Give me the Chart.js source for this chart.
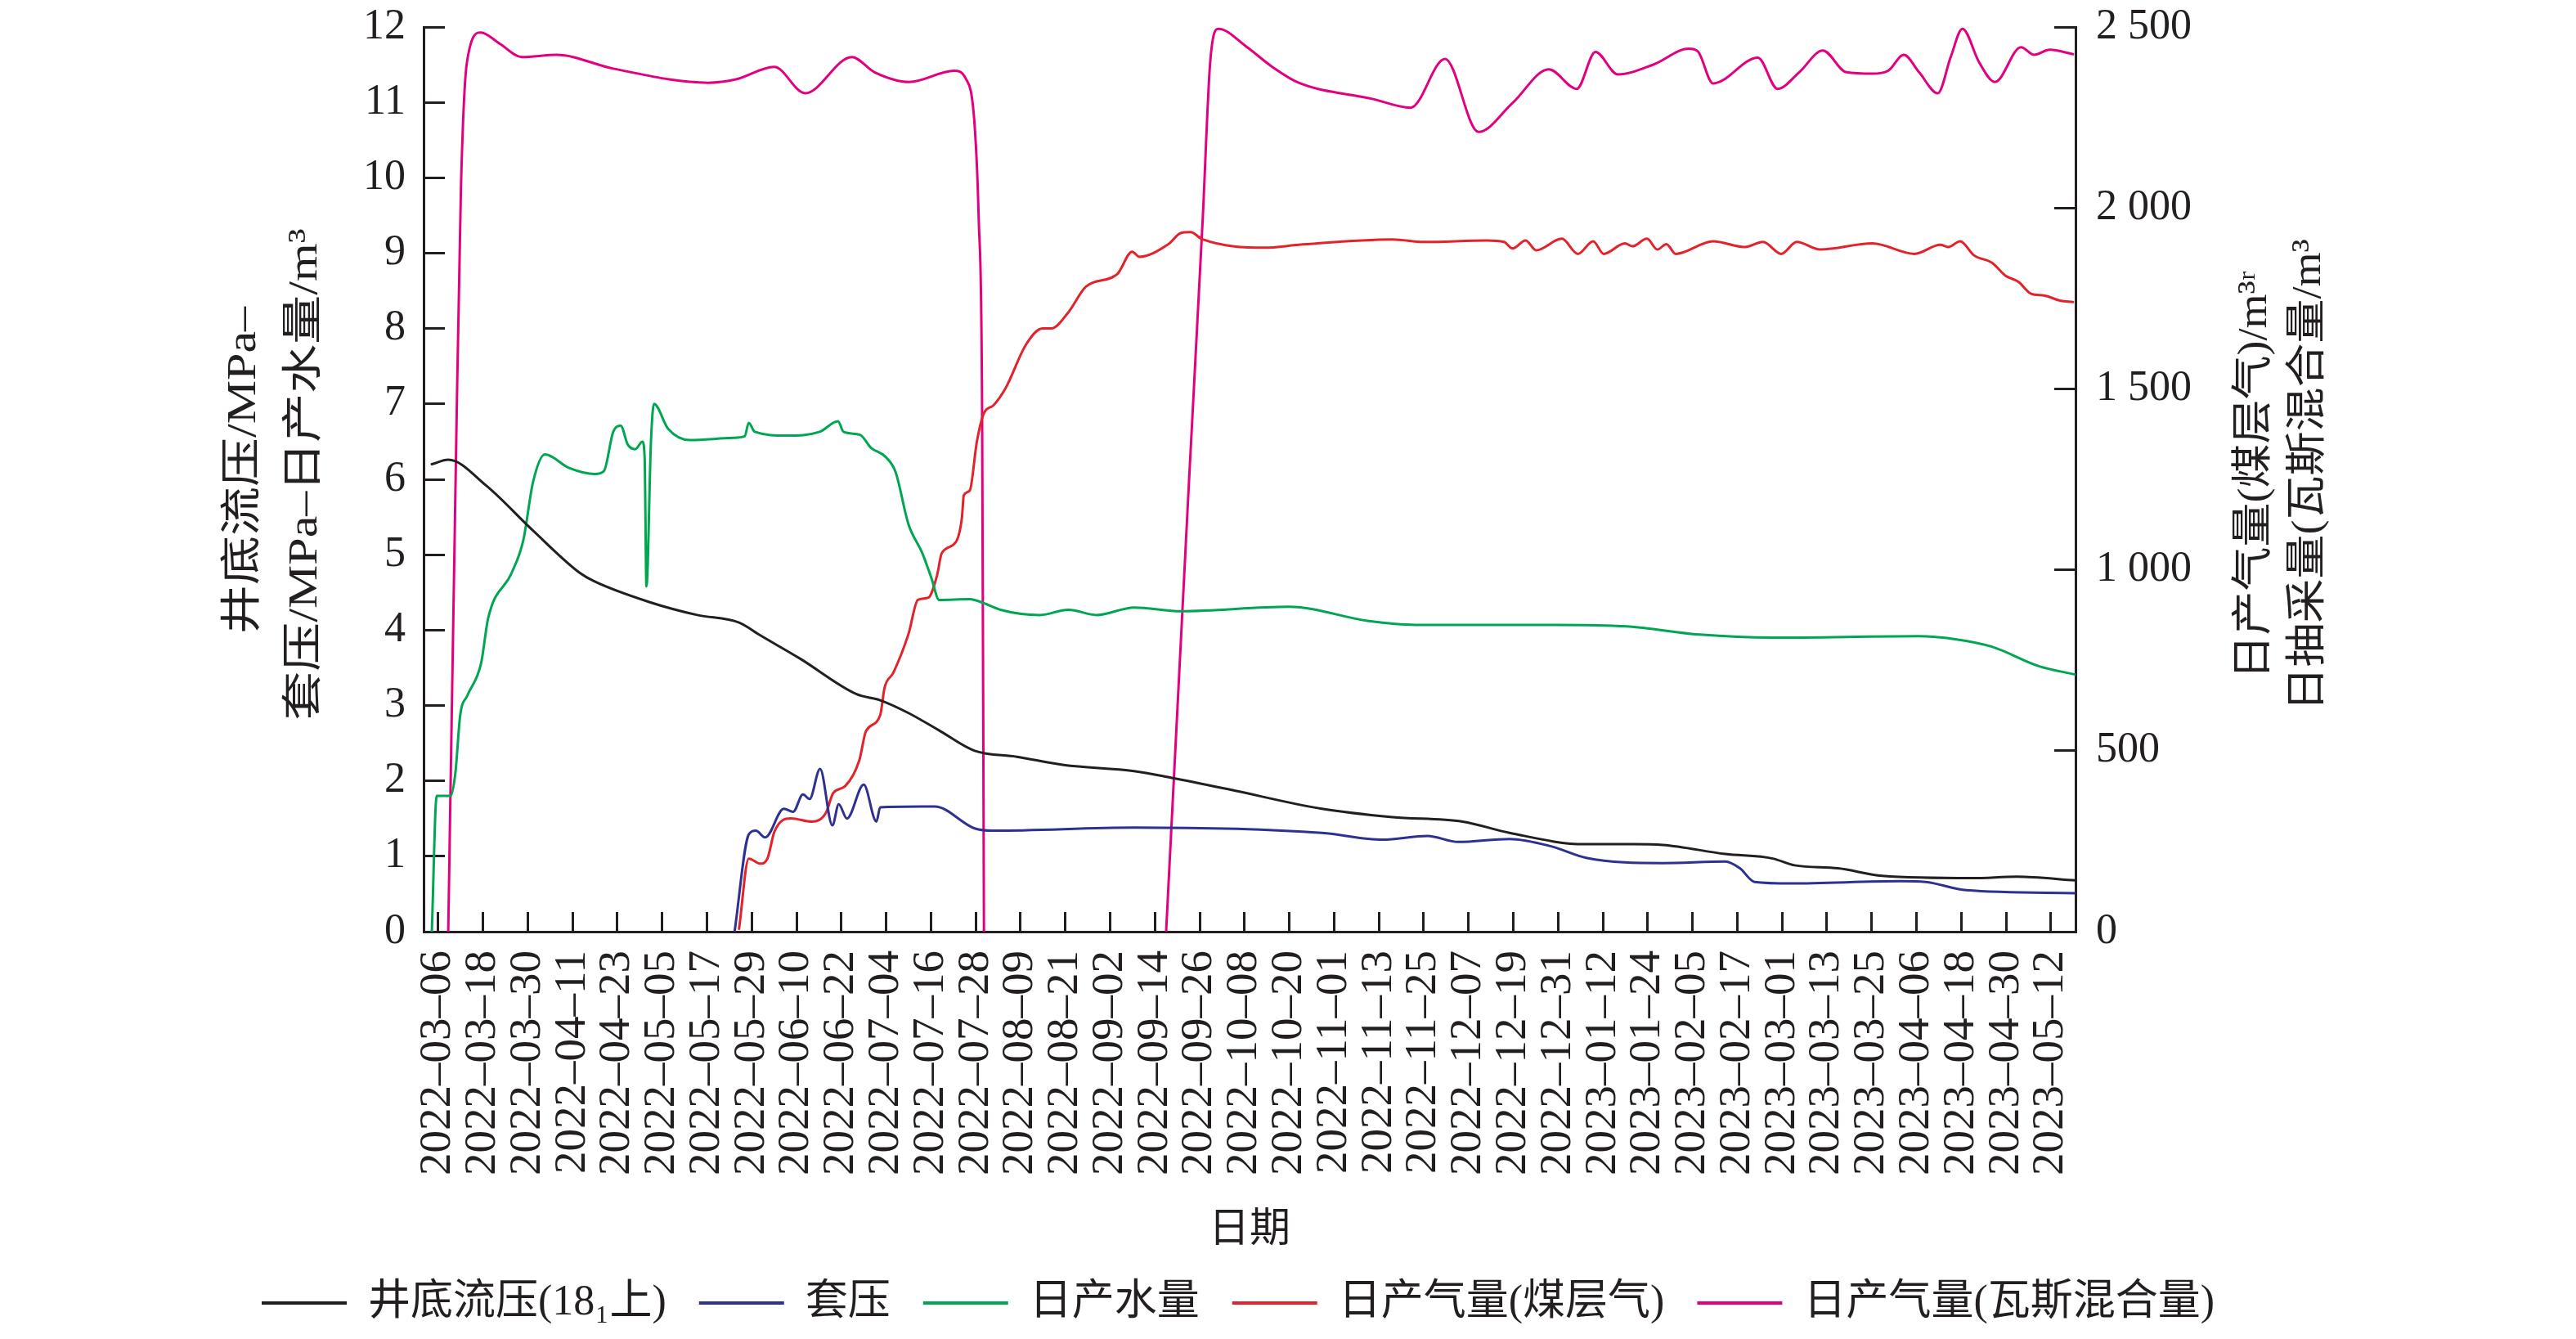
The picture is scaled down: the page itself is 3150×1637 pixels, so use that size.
<!DOCTYPE html>
<html>
<head>
<meta charset="utf-8">
<script src="https://cdn.jsdelivr.net/npm/chart.js@4.4.1/dist/chart.umd.min.js"></script>
<style>
html,body{margin:0;padding:0;background:#fff;}
canvas{display:block;}
</style>
</head>
<body>
<canvas id="c" width="3150" height="1637"></canvas>
<script>
// ---- x axis: days since 2022-03-06, tick every 12 days ----
const startDate = '2022-03-06';
const dateLabels = ['2022–03–06','2022–03–18','2022–03–30','2022–04–11','2022–04–23','2022–05–05','2022–05–17','2022–05–29','2022–06–10','2022–06–22','2022–07–04','2022–07–16','2022–07–28','2022–08–09','2022–08–21','2022–09–02','2022–09–14','2022–09–26','2022–10–08','2022–10–20','2022–11–01','2022–11–13','2022–11–25','2022–12–07','2022–12–19','2022–12–31','2023–01–12','2023–01–24','2023–02–05','2023–02–17','2023–03–01','2023–03–13','2023–03–25','2023–04–06','2023–04–18','2023–04–30','2023–05–12'];
const tickDays = [0,12,24,36,48,60,72,84,96,108,120,132,144,156,168,180,192,204,216,228,240,252,264,276,288,300,312,324,336,348,360,372,384,396,408,420,432];
const xMin = -3.9, xMax = 438.6;

const seriesNames = ['井底流压(18₁上)','套压','日产水量','日产气量(煤层气)','日产气量(瓦斯混合量)'];
const leftTicks = [0,1,2,3,4,5,6,7,8,9,10,11,12];
const rightTicks = [0,500,1000,1500,2000,2500];
const rightTickLabels = ['0','500','1 000','1 500','2 000','2 500'];

// 井底流压 (MPa, left axis)
const bhpDays = [-1.7,2.7,12.8,25.4,37.9,41.7,56.7,69.4,80.6,86.3,97.0,112.1,118.4,126,134.5,143.7,155,167.6,186.4,196.5,211.6,236.7,255.6,274.4,287,307,320,328,344.8,357.5,363.3,375,386.8,411,422.9,438.6];
const bhpValues = [6.20,6.26,5.92,5.32,4.76,4.65,4.37,4.20,4.10,3.93,3.62,3.15,3.07,2.90,2.66,2.40,2.32,2.21,2.13,2.04,1.89,1.63,1.52,1.46,1.31,1.16,1.16,1.15,1.03,0.97,0.88,0.84,0.74,0.71,0.73,0.68];

// 套压 (MPa, left axis)
const casingDays = [79.4,83.2,85.1,87.6,92.6,95.1,97.7,99.5,102.3,105.6,107.3,109.5,114.0,117.4,118.4,129.7,133,143.7,148.7,186.4,236.7,253,265,273.2,287,298.3,307.5,328,344.8,348.7,352.6,362.3,391.7,398.4,409.3,438.6];
const casingValues = [0,1.29,1.34,1.25,1.63,1.59,1.82,1.76,2.16,1.41,1.69,1.50,1.95,1.46,1.65,1.66,1.66,1.37,1.34,1.38,1.31,1.22,1.27,1.19,1.23,1.13,0.98,0.91,0.93,0.84,0.66,0.64,0.67,0.66,0.55,0.51];

// 日产水量 (m3, left axis)
const waterDays = [-1.7,-0.4,3.3,4.6,5.9,7.8,11.5,13.4,19.7,22.8,25.4,28.6,35.1,42,44.4,46.9,48.9,50.8,52.8,54.7,55.3,55.8,57.0,57.8,61.6,67.4,79.1,82.1,83.2,84.8,93.4,102.2,107.1,108.6,113,115.9,119.8,122.5,126,129.7,132.2,134.2,142.4,145.5,150.6,161.2,168.8,176.4,186.4,199,227.9,249.3,261.8,298.8,318.3,337.9,357.5,396.5,406.4,416.2,428.9,438.6];
const waterValues = [0,1.80,1.80,2.10,2.87,3.13,3.56,4.16,4.76,5.19,5.96,6.33,6.15,6.07,6.11,6.63,6.71,6.46,6.40,6.50,6.30,4.58,6.50,7.00,6.67,6.52,6.55,6.57,6.75,6.63,6.58,6.63,6.77,6.63,6.59,6.42,6.30,6.10,5.40,5.02,4.68,4.40,4.41,4.37,4.27,4.20,4.27,4.20,4.30,4.25,4.31,4.12,4.07,4.07,4.05,3.94,3.90,3.92,3.88,3.78,3.52,3.41];

// 日产气量(煤层气) (m3, right axis)
const cbmDays = [80.6,83.2,86.3,88.2,90.1,94.5,100.1,103.9,105.8,109,112.8,114.6,118.4,119.6,121.9,126,128.5,131.3,133.6,134.9,138.7,140.3,140.8,142.4,144.3,146.2,148.7,152,157.5,161.9,164.3,168.7,173.6,181.9,185.9,187.8,195.6,199.0,201.5,204.8,221.5,230.5,255.6,264,280.9,285.5,287.8,291.3,294.1,301,305.3,309.4,312.2,317.9,319.9,323.8,326.6,329,331.5,341.5,350,354.9,359.8,363.9,370.2,384.2,395.4,402.4,404.5,407.7,411.4,416.3,419.8,423.3,426.7,430.2,434.4,437.9];
const cbmValues = [8,202,188,202,277,313,304,329,383,402,473,554,598,675,715,823,917,923,983,1046,1077,1144,1206,1219,1354,1433,1454,1502,1623,1667,1667,1710,1783,1817,1879,1865,1900,1931,1933,1913,1890,1898,1913,1906,1910,1906,1888,1910,1883,1915,1873,1908,1873,1902,1894,1915,1885,1900,1873,1908,1892,1906,1873,1906,1885,1902,1873,1898,1892,1908,1869,1848,1813,1796,1763,1758,1744,1740];

// 日抽采量(瓦斯混合量) (m3, right axis); null = no line drawn (pump stopped)
const gasDays = [2.7,4.8,6.1,7.7,11.4,16.6,22.4,31.7,46.9,72.3,80,90,98.3,110.8,116.9,126.2,138.2,141.3,143.7,144.8,145.7,146.2,170,195,201,204.8,206.8,209,216.7,223.4,230.5,250,260.5,269.7,278.7,287.8,297.5,305,310,316,325.5,335,337.4,341.5,353.5,358.8,364.6,370.9,377.2,384.2,388.4,392.6,396.7,401.7,405.2,408.3,412.8,417,424,427.5,431.7,437.9];
const gasValues = [0,1331,2054,2402,2485,2453,2417,2423,2385,2346,2356,2390,2317,2417,2375,2348,2379,2358,2229,1969,1450,0,null,0,1219,1969,2402,2495,2444,2390,2346,2302,2277,2412,2210,2290,2383,2329,2431,2369,2396,2440,2433,2344,2415,2329,2375,2435,2375,2371,2379,2423,2375,2317,2418,2495,2402,2348,2444,2423,2437,2425];

const colors = ['#231f20','#2e3192','#00a651','#e3232b','#e2007e'];

function pts(days, vals){ return days.map((d,i)=>({x:d, y:vals[i]})); }

const INK = '#231f20';
const SERIF = '"Liberation Serif", "Noto Sans CJK SC", serif';

const axisTitlePlugin = {
  id: 'axisTitles',
  afterDraw(chart){
    const ctx = chart.ctx;
    ctx.save();
    ctx.fillStyle = INK;
    ctx.textAlign = 'center';
    ctx.textBaseline = 'middle';
    ctx.font = '50px ' + SERIF;
    const items = [
      ['井底流压/MPa–', 299, 575, 1.2],
      ['套压/MPa–日产水量/m³', 374, 580, 1.2],
      ['日产气量(煤层气)/m³ʳ', 2758, 581, 1.08],
      ['日抽采量(瓦斯混合量/m³', 2824, 581, 1.08]
    ];
    items.forEach(([t,x,y,s])=>{
      ctx.save();
      ctx.translate(x,y);
      ctx.rotate(-Math.PI/2);
      ctx.scale(s,1);
      ctx.fillText(t,0,0);
      ctx.restore();
    });
    ctx.restore();
  }
};

const datasets = [
  {label: seriesNames[0], data: pts(bhpDays,bhpValues), yAxisID:'y', borderColor: colors[0]},
  {label: seriesNames[1], data: pts(casingDays,casingValues), yAxisID:'y', borderColor: colors[1]},
  {label: seriesNames[2], data: pts(waterDays,waterValues), yAxisID:'y', borderColor: colors[2]},
  {label: seriesNames[3], data: pts(cbmDays,cbmValues), yAxisID:'y2', borderColor: colors[3]},
  {label: seriesNames[4], data: pts(gasDays,gasValues), yAxisID:'y2', borderColor: colors[4]}
].map(d=>Object.assign(d,{backgroundColor:d.borderColor, borderWidth:3, pointRadius:0, cubicInterpolationMode:'monotone', fill:false, spanGaps:false, borderJoinStyle:'round', borderCapStyle:'round'}));

const tickFont = {family: SERIF, size: 52};

new Chart(document.getElementById('c').getContext('2d'), {
  type: 'line',
  data: {datasets},
  options: {
    responsive: false,
    animation: false,
    devicePixelRatio: 1,
    layout: {padding: {left: 280, right: 0, top: 33, bottom: 8}},
    scales: {
      x: {
        type: 'linear', position: 'bottom', min: xMin, max: xMax, z: 1,
        afterBuildTicks: s => { s.ticks = tickDays.map(v => ({value: v})); },
        afterFit: s => { s.height = 388; },
        border: {display: true, color: INK, width: 3},
        grid: {display: true, drawOnChartArea: false, drawTicks: true, tickLength: -24, tickWidth: 3, tickColor: INK},
        ticks: {autoSkip: false, minRotation: 90, maxRotation: 90, padding: 47, color: INK, font: {family: SERIF, size: 55},
          callback: v => dateLabels[Math.round(v/12)]},
        title: {display: true, text: '日期', color: INK, font: {family: SERIF, size: 50, lineHeight: 1}, padding: {top: 0, bottom: -3}}
      },
      y: {
        type: 'linear', position: 'left', min: 0, max: 12, z: 1,
        afterBuildTicks: s => { s.ticks = leftTicks.map(v => ({value: v})); },
        afterFit: s => { s.width = 238; s.paddingTop = 0; s.paddingBottom = 0; },
        border: {display: true, color: INK, width: 3},
        grid: {display: true, drawOnChartArea: false, drawTicks: true, tickLength: -26, tickWidth: 3, tickColor: INK},
        ticks: {padding: 48, color: INK, font: tickFont, callback: v => String(v)}
      },
      y2: {
        type: 'linear', position: 'right', min: 0, max: 2500, z: 1,
        afterBuildTicks: s => { s.ticks = rightTicks.map(v => ({value: v})); },
        afterFit: s => { s.width = 612; s.paddingTop = 0; s.paddingBottom = 0; },
        border: {display: true, color: INK, width: 3},
        grid: {display: true, drawOnChartArea: false, drawTicks: true, tickLength: -26, tickWidth: 3, tickColor: INK},
        ticks: {padding: 51, color: INK, font: tickFont, callback: v => rightTickLabels[rightTicks.indexOf(v)]}
      }
    },
    plugins: {
      tooltip: {enabled: false},
      legend: {
        display: true, position: 'bottom', align: 'start',
        labels: {
          color: INK, font: {family: SERIF, size: 52}, boxWidth: 104, boxHeight: 4, padding: 40,
          generateLabels(chart){
            const items = Chart.defaults.plugins.legend.labels.generateLabels(chart);
            items.forEach(it => { it.lineWidth = 0; it.fillStyle = it.strokeStyle; });
            return items;
          }
        }
      }
    }
  },
  plugins: [axisTitlePlugin]
});
</script>
</body>
</html>
